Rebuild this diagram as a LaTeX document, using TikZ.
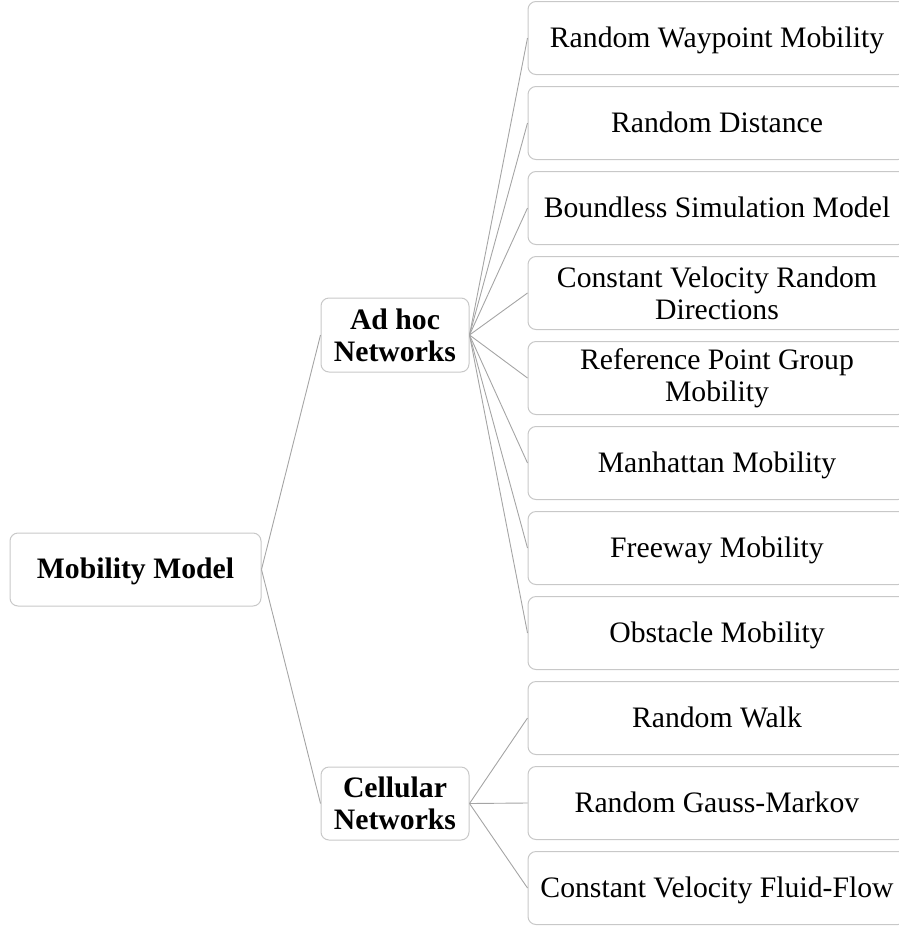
\documentclass[tikz,border=0pt]{standalone}
\usepackage{fontspec}
\setmainfont{Liberation Serif}
\usetikzlibrary{positioning}
\usepackage{xcolor}
\definecolor{boxgray}{RGB}{200,200,200}
\definecolor{linegray}{RGB}{165,165,165}
\newcommand{\tbf}[1]{\textbf{#1}}

\begin{document}
\begin{tikzpicture}[x=1pt, y=-1pt, line width=1pt,
    box/.style={draw=boxgray, rounded corners=8pt, align=center, inner sep=0pt,
      font=\fontsize{29.7}{32}\selectfont},
    flat/.style={text height=20pt, text depth=2pt},
    leaftwo/.style={box, minimum width=378pt, minimum height=73pt},
    leaf/.style={leaftwo, flat},
    link/.style={draw=linegray, line width=0.9pt}]
      \useasboundingbox (0,0) rectangle (899,929);
      \clip (0,0) rectangle (899,929);

      % root and the two network kinds
      \node [box, flat, minimum width=251pt, minimum height=73pt, name=mm] at (135.5,569.5) {\tbf{Mobility Model}};
      \node [box, minimum width=148pt, minimum height=74pt, name=adhoc] at (395,335) {\tbf{Ad hoc}\\\tbf{Networks}};
      \node [box, minimum width=148pt, minimum height=73pt, name=cell] at (395,803.5) {\tbf{Cellular}\\\tbf{Networks}};

      % ad hoc models
      \node [leaf, name=rwp] at (717,38) {Random Waypoint Mobility};
      \node [leaf, name=rd] at (717,123) {Random Distance};
      \node [leaf, name=bsm] at (717,208) {Boundless Simulation Model};
      \node [leaftwo, name=cvrd] at (717,293) {Constant Velocity Random\\Directions};
      \node [leaftwo, name=rpgm] at (717,378) {Reference Point Group\\Mobility};
      \node [leaf, name=man] at (717,463) {Manhattan Mobility};
      \node [leaf, name=fwy] at (717,548) {Freeway Mobility};
      \node [leaf, name=obs] at (717,633) {Obstacle Mobility};

      % cellular models
      \node [leaf, name=rw] at (717,718) {Random Walk};
      \node [leaf, name=rgm] at (717,803) {Random Gauss-Markov};
      \node [leaf, name=cvff] at (717,888) {Constant Velocity Fluid-Flow};

      \draw [link] (mm.east) -- (adhoc.west);
      \draw [link] (mm.east) -- (cell.west);

      \draw [link] (adhoc.east) -- (rwp.west);
      \draw [link] (adhoc.east) -- (rd.west);
      \draw [link] (adhoc.east) -- (bsm.west);
      \draw [link] (adhoc.east) -- (cvrd.west);
      \draw [link] (adhoc.east) -- (rpgm.west);
      \draw [link] (adhoc.east) -- (man.west);
      \draw [link] (adhoc.east) -- (fwy.west);
      \draw [link] (adhoc.east) -- (obs.west);

      \draw [link] (cell.east) -- (rw.west);
      \draw [link] (cell.east) -- (rgm.west);
      \draw [link] (cell.east) -- (cvff.west);
\end{tikzpicture}
\end{document}
